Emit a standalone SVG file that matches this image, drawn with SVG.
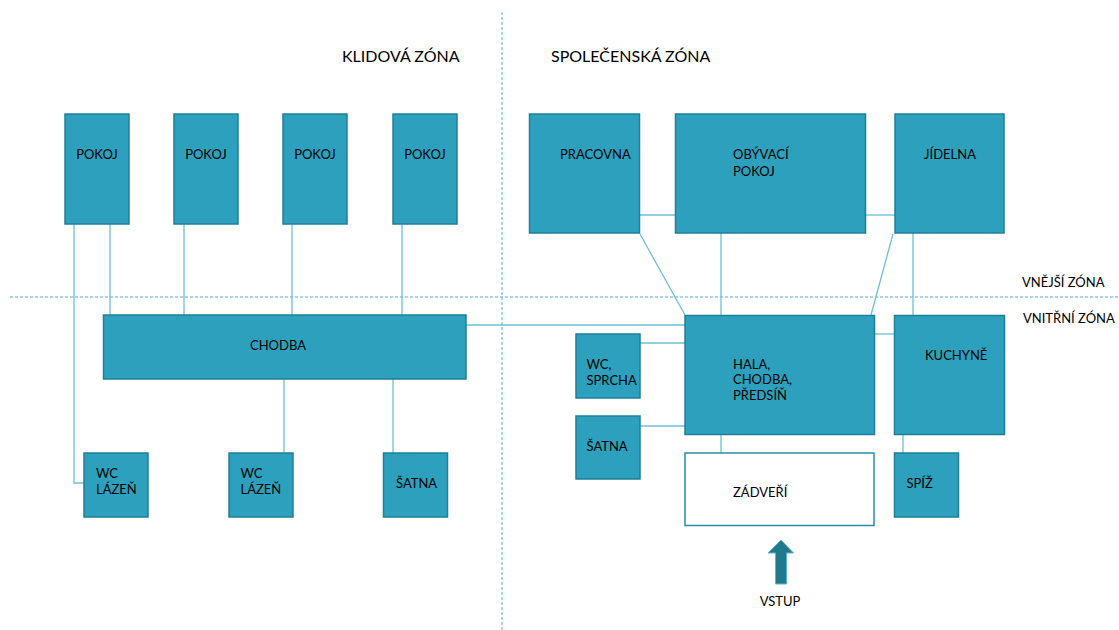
<svg xmlns="http://www.w3.org/2000/svg" width="1119" height="630" viewBox="0 0 1119 630">
<style>
.box{fill:#2ca0bd;stroke:#1f7f98;stroke-width:1.5}
.wbox{fill:#ffffff;stroke:#2a8ea8;stroke-width:1.5}
.t{font-family:Lato,"Open Sans",sans-serif;font-size:13px;fill:#000}
.z{font-family:Lato,"Open Sans",sans-serif;font-size:16px;fill:#000}
.c{fill:none;stroke:#6cc0d6;stroke-width:1.3}
.d{fill:none;stroke:#4ab3d2;stroke-width:1;stroke-dasharray:3 2}
</style>
<rect width="1119" height="630" fill="#ffffff"/>
<g id="zones">
<line class="d" x1="10" y1="297" x2="1119" y2="297"/>
<line class="d" x1="502" y1="12" x2="502" y2="630"/>
<text class="z" x="342" y="62">KLIDOVÁ ZÓNA</text>
<text class="z" x="551" y="62">SPOLEČENSKÁ ZÓNA</text>
<text class="t" x="1022" y="287">VNĚJŠÍ ZÓNA</text>
<text class="t" x="1023" y="323">VNITŘNÍ ZÓNA</text>
</g>
<g id="connectors">
<polyline class="c" points="74,224 74,483 84,483"/>
<line class="c" x1="110" y1="224" x2="110" y2="315"/>
<line class="c" x1="184" y1="224" x2="184" y2="315"/>
<line class="c" x1="292" y1="224" x2="292" y2="315"/>
<line class="c" x1="402" y1="224" x2="402" y2="315"/>
<line class="c" x1="284" y1="379" x2="284" y2="453"/>
<line class="c" x1="393" y1="379" x2="393" y2="453"/>
<line class="c" x1="466" y1="325" x2="685" y2="325"/>
<line class="c" x1="639" y1="215" x2="675" y2="215"/>
<line class="c" x1="865" y1="215" x2="895" y2="215"/>
<line class="c" x1="640" y1="234" x2="685" y2="315"/>
<line class="c" x1="721" y1="233" x2="721" y2="315"/>
<line class="c" x1="893" y1="234" x2="871" y2="315"/>
<line class="c" x1="913" y1="233" x2="913" y2="315"/>
<line class="c" x1="640" y1="343" x2="685" y2="343"/>
<line class="c" x1="640" y1="426" x2="685" y2="426"/>
<line class="c" x1="874" y1="334" x2="894" y2="334"/>
<line class="c" x1="721" y1="434" x2="721" y2="453"/>
<line class="c" x1="903" y1="434" x2="903" y2="453"/>
</g>
<g id="pokoj1"><rect class="box" x="65" y="114" width="64" height="110"/><text class="t" x="97" y="159" text-anchor="middle">POKOJ</text></g>
<g id="pokoj2"><rect class="box" x="174" y="114" width="64" height="110"/><text class="t" x="206" y="159" text-anchor="middle">POKOJ</text></g>
<g id="pokoj3"><rect class="box" x="283" y="114" width="64" height="110"/><text class="t" x="315" y="159" text-anchor="middle">POKOJ</text></g>
<g id="pokoj4"><rect class="box" x="393" y="114" width="64" height="110"/><text class="t" x="425" y="159" text-anchor="middle">POKOJ</text></g>
<g id="chodba"><rect class="box" x="103.5" y="315" width="362.5" height="64"/><text class="t" x="250" y="350">CHODBA</text></g>
<g id="wclazen1"><rect class="box" x="84" y="453" width="64" height="64"/><text class="t" x="96" y="478">WC</text><text class="t" x="96" y="494">LÁZEŇ</text></g>
<g id="wclazen2"><rect class="box" x="229" y="453" width="64" height="64"/><text class="t" x="240.5" y="478">WC</text><text class="t" x="240.5" y="494">LÁZEŇ</text></g>
<g id="satna1"><rect class="box" x="383.5" y="453" width="64" height="64"/><text class="t" x="396" y="488">ŠATNA</text></g>
<g id="pracovna"><rect class="box" x="529.5" y="114" width="110" height="119"/><text class="t" x="560" y="159">PRACOVNA</text></g>
<g id="obyvaci"><rect class="box" x="675.5" y="114" width="190" height="119"/><text class="t" x="733" y="159">OBÝVACÍ</text><text class="t" x="733" y="175.5">POKOJ</text></g>
<g id="jidelna"><rect class="box" x="895" y="114" width="109" height="119"/><text class="t" x="924" y="159">JÍDELNA</text></g>
<g id="hala"><rect class="box" x="685" y="315.5" width="189.5" height="119"/><text class="t" x="733" y="369">HALA,</text><text class="t" x="733" y="384">CHODBA,</text><text class="t" x="733" y="399.5">PŘEDSÍŇ</text></g>
<g id="kuchyne"><rect class="box" x="894.5" y="315.5" width="110" height="119"/><text class="t" x="925" y="360">KUCHYNĚ</text></g>
<g id="wcsprcha"><rect class="box" x="576" y="334" width="64" height="64"/><text class="t" x="586.5" y="369">WC,</text><text class="t" x="586.5" y="384.5">SPRCHA</text></g>
<g id="satna2"><rect class="box" x="576" y="416" width="64" height="63"/><text class="t" x="586.5" y="451">ŠATNA</text></g>
<g id="zadveri"><rect class="wbox" x="685" y="453" width="189" height="72.5"/><text class="t" x="733" y="497">ZÁDVEŘÍ</text></g>
<g id="spiz"><rect class="box" x="894.5" y="453" width="64" height="64"/><text class="t" x="906.5" y="488">SPÍŽ</text></g>
<g id="vstup">
<polygon points="781,540 793.5,553 786.5,553 786.5,584 775.5,584 775.5,553 768,553" fill="#1f7a8e" stroke="#5fb4c8" stroke-width="1"/>
<text class="t" x="780" y="606" text-anchor="middle">VSTUP</text>
</g>
</svg>
